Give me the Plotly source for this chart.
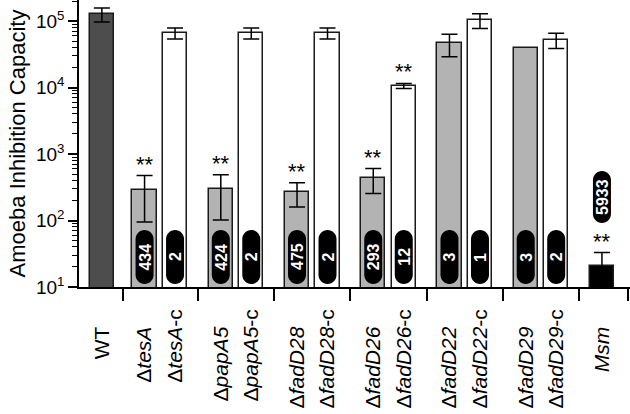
import math
import plotly.graph_objects as go

# ---- data ----
labels = ["WT", "Δ<i>tesA</i>", "Δ<i>tesA</i>-c", "Δ<i>papA5</i>", "Δ<i>papA5</i>-c",
          "Δ<i>fadD28</i>", "Δ<i>fadD28</i>-c", "Δ<i>fadD26</i>", "Δ<i>fadD26</i>-c",
          "Δ<i>fadD22</i>", "Δ<i>fadD22</i>-c", "Δ<i>fadD29</i>", "Δ<i>fadD29</i>-c", "<i>Msm</i>"]
values = [127000, 285, 66000, 295, 66000, 265, 66000, 430, 10600, 46000, 103000, 39700, 52000, 21]
errors = [30000, 190, 12500, 193, 12500, 105, 12500, 175, 900, 17000, 26000, None, 13500, 12]
kinds = ["wt", "mut", "comp", "mut", "comp", "mut", "comp", "mut", "comp", "mut", "comp", "mut", "comp", "msm"]
badges = [None, "434", "2", "424", "2", "475", "2", "293", "12", "3", "1", "3", "2", "5933"]
stars = [False, True, False, True, False, True, False, True, True, False, False, False, False, True]

# ---- layout helpers ----
colors = {"wt": "#4d4d4d", "mut": "#b3b3b3", "comp": "#ffffff", "msm": "#000000"}
pos = [0.75]
for g in range(6):
    pos += [2.15 + 2.5 * g, 3.15 + 2.5 * g]
pos.append(2.15 + 2.5 * 6)
seps = [(pos[i] + pos[i + 1]) / 2 for i in (0, 2, 4, 6, 8, 10, 12)] + [18.0]

# tick label padding: non-complement labels start a little lower (as in the reference)
pad = "\u00a0" * 3
tick_text = [lab if k == "comp" else lab + pad for lab, k in zip(labels, kinds)]

fig = go.Figure()
for i in range(len(values)):
    ey = dict(type="data", array=[errors[i]], color="black", thickness=1.5, width=8, visible=True) \
        if errors[i] is not None else dict(visible=False)
    fig.add_trace(go.Bar(
        x=[pos[i]], y=[values[i]], width=0.8,
        marker=dict(color=colors[kinds[i]], line=dict(color="#1a1a1a", width=1.5)),
        error_y=ey, showlegend=False, hoverinfo="skip"))

def pill(cx, cy, w=18, h=54):
    r = w / 2
    k = 0.5523 * r
    y0, y1 = cy - h / 2, cy + h / 2
    return (f"M {-r},{y0 + r} L {-r},{y1 - r} C {-r},{y1 - r + k} {-k},{y1} 0,{y1} "
            f"C {k},{y1} {r},{y1 - r + k} {r},{y1 - r} L {r},{y0 + r} "
            f"C {r},{y0 + r - k} {k},{y0} 0,{y0} C {-k},{y0} {-r},{y0 + r - k} {-r},{y0 + r} Z")

shapes = []
annotations = []
for i, b in enumerate(badges):
    if b is None:
        continue
    if kinds[i] == "msm":
        cy, h = 90, 52
    else:
        cy, h = 30, 54
    shapes.append(dict(type="path", xref="x", yref="y", xsizemode="pixel", ysizemode="pixel",
                       xanchor=pos[i], yanchor=10, path=pill(0, cy, 18, h),
                       fillcolor="black", line=dict(width=0)))
    annotations.append(dict(x=pos[i], y=1, xref="x", yref="y", yshift=cy, text=f"<b>{b}</b>",
                            textangle=-90, showarrow=False,
                            font=dict(family="Liberation Sans, Arial", size=16, color="white")))

for i, s in enumerate(stars):
    if not s:
        continue
    top = values[i] + (errors[i] or 0)
    annotations.append(dict(x=pos[i], y=math.log10(top), xref="x", yref="y", yanchor="bottom",
                            yshift=-3, text="**", showarrow=False,
                            font=dict(family="Liberation Sans, Arial", size=22, color="black")))

minor_vals = [m * 10 ** k for k in range(1, 6) for m in range(2, 10)]

fig.update_layout(
    width=630, height=414,
    margin=dict(l=79, r=0, t=0, b=127, autoexpand=False),
    plot_bgcolor="white", paper_bgcolor="white",
    font=dict(family="Liberation Sans, Arial", color="black"),
    bargap=0, shapes=shapes, annotations=annotations,
    xaxis=dict(range=[0, 18.07], showgrid=False, zeroline=False, showline=True,
               linecolor="black", linewidth=1.5, automargin=False,
               tickmode="array", tickvals=pos, ticktext=tick_text, tickangle=-90,
               ticks="outside", ticklen=12, tickcolor="rgba(0,0,0,0)",
               tickfont=dict(size=21),
               minor=dict(tickmode="array", tickvals=seps, ticks="outside", ticklen=12,
                          tickwidth=1.5, tickcolor="black")),
    yaxis=dict(type="log", range=[1, 5.316], showgrid=False, zeroline=False, showline=True,
               linecolor="black", linewidth=1.5, automargin=False,
               tickmode="array", tickvals=[10, 100, 1000, 10000, 100000],
               ticktext=["10<sup>1</sup>", "10<sup>2</sup>", "10<sup>3</sup>", "10<sup>4</sup>", "10<sup>5</sup>"],
               ticks="outside", ticklen=9, tickwidth=1.5, tickcolor="black",
               tickfont=dict(size=19),
               minor=dict(tickmode="array", tickvals=minor_vals, ticks="outside", ticklen=5,
                          tickwidth=1, tickcolor="black"),
               title=dict(text="Amoeba Inhibition Capacity", font=dict(size=22), standoff=4)),
)

fig.write_html("out.html", config={"displayModeBar": False},
               post_script="document.body.style.margin='0';")
